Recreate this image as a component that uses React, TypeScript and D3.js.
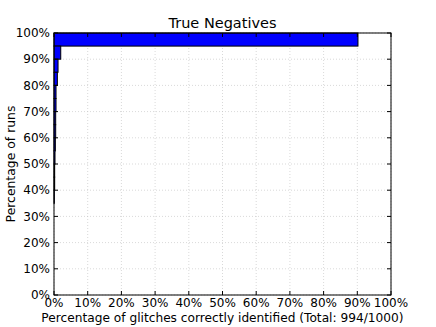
import React from "react";
import * as d3 from "d3";

const binStarts = [95, 90, 85, 80, 75, 70, 65, 60, 55, 50, 45, 40, 35];
const binWidth = 5;
const percentGlitches = [90.2, 2.0, 1.2, 1.0, 0.6, 0.6, 0.5, 0.5, 0.4, 0.3, 0.2, 0.2, 0.1];
const tickValues = [0, 10, 20, 30, 40, 50, 60, 70, 80, 90, 100];
const tickLabels = tickValues.map((v) => `${v}%`);

const W = 436;
const H = 327;
const M = { left: 54, right: 391, top: 33, bottom: 295 };

export default function App() {
  const x = d3.scaleLinear().domain([0, 100]).range([M.left, M.right]);
  const y = d3.scaleLinear().domain([0, 100]).range([M.bottom, M.top]);
  const font = "DejaVu Sans, sans-serif";
  const tl = 4;
  return (
    <svg width={W} height={H} style={{ position: "absolute", left: 0, top: 0, background: "#fff" }}>
      <rect x={0} y={0} width={W} height={H} fill="#fff" />
      {/* grid */}
      {tickValues.map((v, i) => (
        <g key={"g" + i}>
          <line x1={x(v)} x2={x(v)} y1={M.top} y2={M.bottom} stroke="#c0c0c0" strokeWidth={0.6} strokeDasharray="1,2" />
          <line x1={M.left} x2={M.right} y1={y(v)} y2={y(v)} stroke="#c0c0c0" strokeWidth={0.6} strokeDasharray="1,2" />
        </g>
      ))}
      {/* bars */}
      {binStarts.map((b, i) => (
        <rect
          key={"b" + i}
          x={x(0)}
          y={y(b + binWidth)}
          width={x(percentGlitches[i]) - x(0)}
          height={y(b) - y(b + binWidth)}
          fill="#0000ff"
          stroke="#000"
          strokeWidth={1}
        />
      ))}
      {/* ticks */}
      {tickValues.map((v, i) => (
        <g key={"t" + i} stroke="#000" strokeWidth={1}>
          <line x1={x(v)} x2={x(v)} y1={M.bottom} y2={M.bottom - tl} />
          <line x1={x(v)} x2={x(v)} y1={M.top} y2={M.top + tl} />
          <line x1={M.left} x2={M.left + tl} y1={y(v)} y2={y(v)} />
          <line x1={M.right} x2={M.right - tl} y1={y(v)} y2={y(v)} />
        </g>
      ))}
      {/* spines */}
      <rect x={M.left} y={M.top} width={M.right - M.left} height={M.bottom - M.top} fill="none" stroke="#000" strokeWidth={1} />
      {/* tick labels */}
      {tickValues.map((v, i) => (
        <text key={"xl" + i} x={x(v)} y={M.bottom + 12} textAnchor="middle" fontFamily={font} fontSize={12} fill="#000">
          {tickLabels[i]}
        </text>
      ))}
      {tickValues.map((v, i) => (
        <text key={"yl" + i} x={M.left - 4} y={y(v)} dy="0.35em" textAnchor="end" fontFamily={font} fontSize={12} fill="#000">
          {tickLabels[i]}
        </text>
      ))}
      <text x={(M.left + M.right) / 2} y={28} textAnchor="middle" fontFamily={font} fontSize={14.5} fill="#000">
        True Negatives
      </text>
      <text x={(M.left + M.right) / 2} y={322} textAnchor="middle" fontFamily={font} fontSize={12.2} fill="#000">
        Percentage of glitches correctly identified (Total: 994/1000)
      </text>
      <text transform={`translate(11,${(M.top + M.bottom) / 2}) rotate(-90)`} dy="0.35em" textAnchor="middle" fontFamily={font} fontSize={12.4} fill="#000">
        Percentage of runs
      </text>
    </svg>
  );
}
